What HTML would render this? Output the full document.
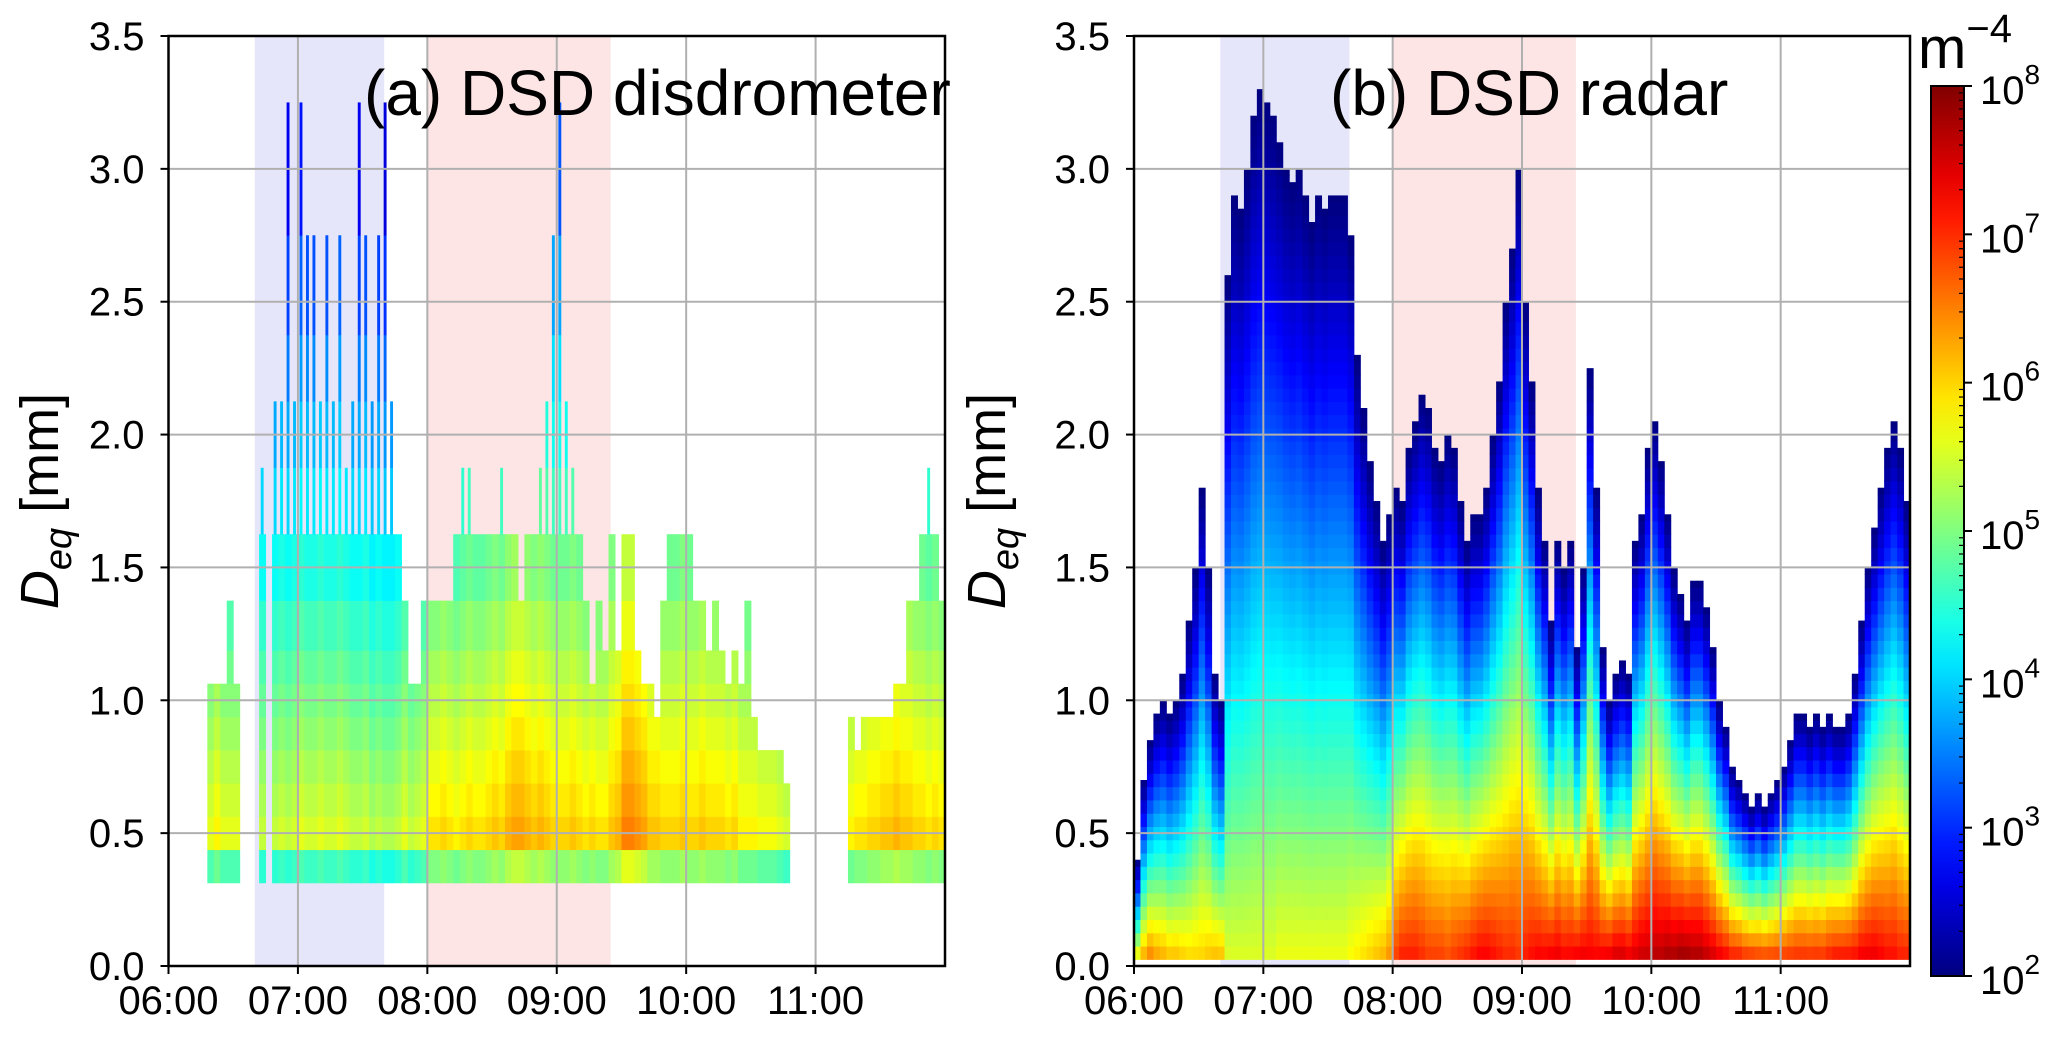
<!DOCTYPE html>
<html><head><meta charset="utf-8"><style>
body{margin:0;background:#fff;}
svg{display:block;font-family:"Liberation Sans","DejaVu Sans",sans-serif;}
</style></head><body>
<svg id="fig" width="2067" height="1063" viewBox="0 0 2067 1063" xmlns="http://www.w3.org/2000/svg">
<rect width="2067" height="1063" fill="#fff"/>
<g id="pa"></g>
<g id="pb"></g>
<g id="cb"></g>
</svg>
<script>
// ---------- data (3-minute steps from 06:00) ----------
const startHour = 6;
const stepMin = 3;
const xTickLabels = ["06:00","07:00","08:00","09:00","10:00","11:00"];
const yTickLabels = ["0.0","0.5","1.0","1.5","2.0","2.5","3.0","3.5"];
const cbTickExp = ["2","3","4","5","6","7","8"];
const disdroEdges = [0.3125,0.4375,0.5625,0.6875,0.8125,0.9375,1.0625,1.1875,1.375,1.625,1.875,2.125,2.375,2.75,3.25];
const disdroTop = [0,0,0,0,0,0,1.06,1.06,1.06,1.37,1.06,0,0,0,1.87,0,2.1,2.1,3.25,2.1,
3.25,2.75,2.4,2.1,2.75,2.1,2.4,1.87,2.1,3.25,2.75,2.1,2.75,3.25,2.1,1.6,1.37,1.06,1.06,1.37,
1.37,1.37,1.37,1.37,1.6,1.87,1.87,1.6,1.6,1.6,1.6,1.87,1.6,1.6,1.37,1.6,1.6,1.87,2.1,2.4,
3.25,2.1,1.87,1.6,1.37,1.06,1.37,1.19,1.6,1.19,1.6,1.6,1.19,1.06,1.06,0.94,1.37,1.6,1.6,1.6,
1.6,1.37,1.37,1.19,1.37,1.19,1.06,1.19,1.06,1.37,0.94,0.81,0.81,0.81,0.81,0.69,0,0,0,0,
0,0,0,0,0,0.94,0.81,0.94,0.94,0.94,0.94,0.94,1.06,1.06,1.37,1.37,1.6,1.87,1.6,1.37];
const disdroBase = [0,0,0,0,0,0,5.6,5.8,5.6,5.6,5.6,0,0,0,5.4,0,5.4,5.5,5.4,5.5,
5.6,5.5,5.5,5.6,5.5,5.5,5.6,5.5,5.4,5.4,5.5,5.3,5.4,5.3,5.3,5.4,5.6,5.4,5.5,5.6,
5.9,5.9,6.0,5.9,5.8,5.9,6.0,5.9,5.9,6.0,6.1,6.0,6.2,6.3,6.3,6.2,6.1,6.2,6.1,6.0,
6.0,6.0,6.1,6.0,5.9,6.0,5.9,5.9,6.1,6.2,6.5,6.5,6.4,6.3,6.1,6.1,6.0,6.0,6.0,6.1,
6.0,6.0,6.1,6.0,6.0,6.0,5.9,6.0,5.8,5.8,5.8,5.7,5.7,5.7,5.6,5.5,0,0,0,0,
0,0,0,0,0,5.8,5.9,5.9,6.0,6.0,6.1,6.1,6.2,6.1,6.1,6.0,6.0,5.9,6.0,5.9];
const radarTop = [0.4,0.7,0.85,0.95,1.0,0.95,1.0,1.1,1.3,1.5,1.8,1.5,1.1,1.0,2.6,2.9,2.85,3.0,3.2,3.3,
3.25,3.2,3.1,3.0,2.95,3.0,2.9,2.8,2.9,2.85,2.9,2.9,2.9,2.75,2.3,2.1,1.9,1.75,1.6,1.7,
1.8,1.75,1.95,2.05,2.15,2.1,1.95,1.9,2.0,1.95,1.75,1.6,1.7,1.7,1.8,2.0,2.2,2.5,2.7,3.0,
2.5,2.2,1.8,1.6,1.3,1.6,1.5,1.6,1.2,1.5,2.25,1.8,1.2,1.0,1.1,1.15,1.1,1.6,1.7,1.95,
2.05,1.9,1.7,1.5,1.4,1.3,1.45,1.45,1.35,1.2,1.0,0.9,0.75,0.7,0.65,0.6,0.65,0.6,0.65,0.7,
0.75,0.85,0.95,0.95,0.9,0.95,0.9,0.95,0.9,0.9,0.95,1.1,1.3,1.5,1.65,1.8,1.95,2.05,1.95,1.75];
const radarBase = [6.2,6.5,6.7,6.5,6.4,6.3,6.3,6.2,6.1,6.1,6.1,6.2,6.3,6.3,5.6,5.6,5.6,5.6,5.6,5.6,
5.6,5.6,5.7,5.7,5.7,5.7,5.7,5.7,5.7,5.7,5.7,5.7,5.7,5.8,5.9,6.0,6.1,6.2,6.3,6.5,
7.0,7.2,7.2,7.2,7.1,7.0,7.0,7.0,6.9,7.0,7.1,7.2,7.3,7.4,7.4,7.3,7.2,7.1,7.1,7.0,
7.2,7.3,7.4,7.4,7.5,7.5,7.4,7.4,7.5,7.5,7.4,7.4,7.5,7.6,7.7,7.7,7.6,7.6,7.7,7.7,
7.8,7.8,7.9,7.9,8.0,8.0,7.9,7.9,7.8,7.7,7.6,7.5,7.4,7.4,7.3,7.3,7.2,7.2,7.2,7.2,
7.2,7.2,7.2,7.2,7.2,7.2,7.2,7.3,7.4,7.4,7.4,7.4,7.5,7.5,7.5,7.4,7.3,7.3,7.2,7.2];

// ---------- layout ----------
const NS="http://www.w3.org/2000/svg";
function mk(tag,attrs,parent){const e=document.createElementNS(NS,tag);for(const k in attrs)e.setAttribute(k,attrs[k]);parent.appendChild(e);return e;}
function jet(v){let t=Math.max(0,Math.min(1,(v-2)/6));
 const c=x=>Math.round(255*Math.max(0,Math.min(1,x)));
 return `rgb(${c(1.5-Math.abs(4*t-3))},${c(1.5-Math.abs(4*t-2))},${c(1.5-Math.abs(4*t-1))})`;}
function makeAxes(L,R,T,B){
 return {x:h=>L+(h-6)/6*(R-L), y:d=>B-d/3.5*(B-T), L,R,T,B};}
const A=makeAxes(168.5,945,36,966);
const Bx=makeAxes(1134,1910,36,966);

function frame(g,ax){
 let s=mk('rect',{x:ax.x(6+40/60),y:ax.T,width:ax.x(7+40/60)-ax.x(6+40/60),height:ax.B-ax.T,fill:'#e6e6fb'},g);
 
 
 let p=mk('rect',{x:ax.x(8),y:ax.T,width:ax.x(9+25/60)-ax.x(8),height:ax.B-ax.T,fill:'#fde5e5'},g);
 
 
}
function gridAxes(g,ax){
 const gg=mk('g',{},g);
 
 
 xTickLabels.forEach((lab,i)=>{const x=ax.x(6+i);
  mk('line',{x1:x,x2:x,y1:ax.T,y2:ax.B,stroke:'#b0b0b0','stroke-width':2},gg);
  mk('line',{x1:x,x2:x,y1:ax.B,y2:ax.B+8,stroke:'#000','stroke-width':2},gg);
  const t=mk('text',{x:x,y:1014,'font-size':40,'text-anchor':'middle'},g);t.textContent=lab;
  
  });
 yTickLabels.forEach((lab,i)=>{const y=ax.y(i*0.5);
  mk('line',{x1:ax.L,x2:ax.R,y1:y,y2:y,stroke:'#b0b0b0','stroke-width':2},gg);
  mk('line',{x1:ax.L-8,x2:ax.L,y1:y,y2:y,stroke:'#000','stroke-width':2},gg);
  const t=mk('text',{x:ax.L-24,y:y+14,'font-size':40,'text-anchor':'end'},g);t.textContent=lab;
  
  });
 const f=mk('rect',{x:ax.L,y:ax.T,width:ax.R-ax.L,height:ax.B-ax.T,fill:'none',stroke:'#000','stroke-width':2.5},g);
 
 
}
function ylabel(g,cx){
 const t=mk('text',{transform:`translate(${cx},501) rotate(-90)`,'font-size':54,'text-anchor':'middle'},g);
 t.innerHTML='<tspan font-style="italic">D</tspan><tspan font-style="italic" font-size="38" dy="13">eq</tspan><tspan dy="-13"> [mm]</tspan>';
 
 
}

// ---------- panel a ----------
const ga=document.getElementById('pa');
frame(ga,A);
const ha=mk('g',{},ga);


disdroTop.forEach((top,i)=>{
 if(top<=0)return;
 const h0=startHour+i*stepMin/60, x0=A.x(h0), w=A.x(h0+stepMin/60)-x0;
 for(let k=0;k<disdroEdges.length-1;k++){
  const lo=disdroEdges[k],hi=disdroEdges[k+1];
  if(lo>=top-0.01)break;
  const mid=(lo+hi)/2;
  let v=disdroBase[i]-1.1*Math.max(0,mid-0.5);
  if(k===0)v=disdroBase[i]-0.9;
  const sparse=lo>=1.6;
  const ww=sparse?w*0.45:w+0.5;
  const r=mk('rect',{x:x0+(sparse?w*0.25:0),y:A.y(hi),width:ww,height:A.y(lo)-A.y(hi)+0.3,fill:jet(v)},ha);
  
  
 }
});
gridAxes(ga,A);
ylabel(ga,58);
let ta=mk('text',{x:364,y:115,'font-size':64},ga);ta.textContent='(a) DSD disdrometer';



// ---------- panel b ----------
const gb=document.getElementById('pb');
frame(gb,Bx);
const hb=mk('g',{},gb);


const dStep=0.05;
radarTop.forEach((top,i)=>{
 const h0=startHour+i*stepMin/60, x0=Bx.x(h0), w=Bx.x(h0+stepMin/60)-x0;
 for(let d=0.025;d<top;d+=dStep){
  const hi=Math.min(top,d+dStep), mid=(d+hi)/2;
  const v=2+(radarBase[i]-2)*Math.pow(Math.max(0,1-mid/top),1.1);
  const r=mk('rect',{x:x0,y:Bx.y(hi),width:w+0.5,height:Bx.y(d)-Bx.y(hi)+0.5,fill:jet(v)},hb);
  
  
 }
});
gridAxes(gb,Bx);
ylabel(gb,1005);
let tb=mk('text',{x:1330,y:115,'font-size':64},gb);tb.textContent='(b) DSD radar';



// ---------- colorbar ----------
const gc=document.getElementById('cb');
const defs=mk('defs',{},gc);
const lg=mk('linearGradient',{id:'jetg',x1:0,y1:1,x2:0,y2:0},defs);
for(let s=0;s<=20;s++){mk('stop',{offset:s/20,'stop-color':jet(2+6*s/20)},lg);}
const cbT=86,cbB=976,cbL=1931,cbR=1964;
const cr=mk('rect',{x:cbL,y:cbT,width:cbR-cbL,height:cbB-cbT,fill:'url(#jetg)',stroke:'#000','stroke-width':2},gc);


cbTickExp.forEach((e,i)=>{
 const y=cbB-i*(cbB-cbT)/6;
 mk('line',{x1:cbR,x2:cbR+8,y1:y,y2:y,stroke:'#000','stroke-width':2},gc);
 if(i<6){for(let m=2;m<10;m++){const ym=y-Math.log10(m)*(cbB-cbT)/6;mk('line',{x1:cbR-5,x2:cbR,y1:ym,y2:ym,stroke:'#000','stroke-width':1.2},gc);}}
 const t=mk('text',{x:cbR+16,y:y+18,'font-size':40},gc);
 t.innerHTML='10<tspan font-size="28" dy="-20">'+e+'</tspan>';
 
 
});
const cl=mk('text',{x:1918,y:68,'font-size':58},gc);
cl.innerHTML='m<tspan font-size="40" dy="-26">−4</tspan>';


</script>
</body></html>
